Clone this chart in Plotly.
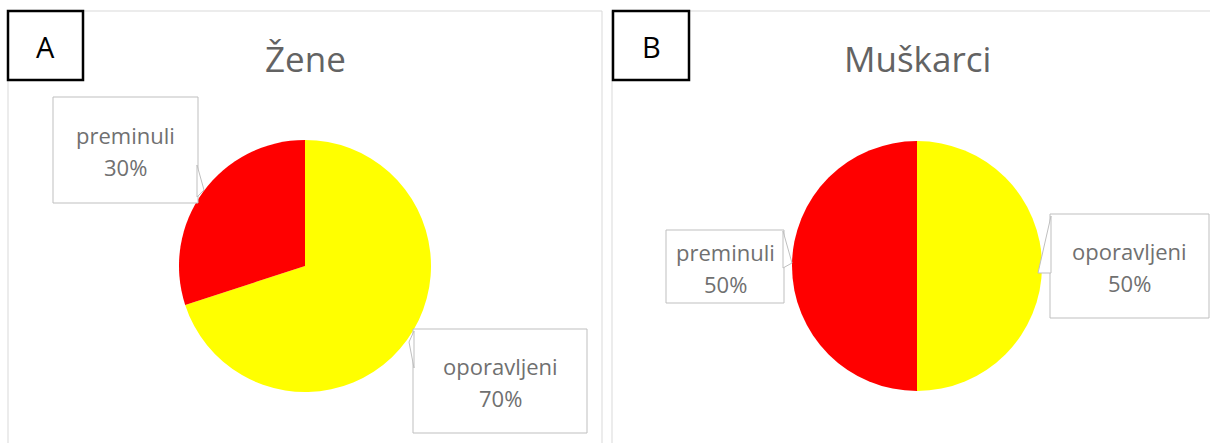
import plotly.graph_objects as go

# ---- data ----
categories = ["oporavljeni", "preminuli"]
zene = [70, 30]
muskarci = [50, 50]
slice_colors = ["#FFFF00", "#FF0000"]
panel_titles = ["Žene", "Muškarci"]
panel_letters = ["A", "B"]

W, H = 1210, 443


def px(x):
    return x / W


def py(y):
    return 1 - y / H


fig = go.Figure()

# pie domains (pixel boxes: left, top, right, bottom)
pie_boxes = [(179, 140, 431, 392), (792, 140, 1042, 392)]
for vals, (l, t, r, b), name in zip([zene, muskarci], pie_boxes, panel_titles):
    fig.add_trace(go.Pie(
        labels=categories, values=vals, name=name,
        marker=dict(colors=slice_colors, line=dict(width=0)),
        sort=False, direction="clockwise", rotation=0,
        textinfo="none", hoverinfo="label+percent",
        domain=dict(x=[px(l), px(r)], y=[py(b), py(t)]),
        showlegend=False,
    ))

shapes = []
annotations = []

# panel frames
for (l, t, r, b) in [(8, 11, 602, 460), (612, 11, 1220, 460)]:
    shapes.append(dict(type="rect", xref="paper", yref="paper",
                       x0=px(l), x1=px(r), y0=py(b), y1=py(t),
                       line=dict(color="#D9D9D9", width=1), layer="below"))

# panel titles
for title, cx in zip(panel_titles, [305, 917]):
    annotations.append(dict(text=title, x=px(cx), y=py(58), xref="paper", yref="paper",
                            xanchor="center", yanchor="middle", showarrow=False,
                            font=dict(family="Open Sans", size=35, color="#636363")))

# letter boxes
for letter, (l, t, r, b) in zip(panel_letters, [(8, 11, 83, 80), (613, 11, 689, 80)]):
    shapes.append(dict(type="rect", xref="paper", yref="paper",
                       x0=px(l), x1=px(r), y0=py(b), y1=py(t),
                       line=dict(color="#000000", width=2.5), fillcolor="#FFFFFF"))
    annotations.append(dict(text=letter, x=px((l + r) / 2), y=py((t + b) / 2 + 1),
                            xref="paper", yref="paper", xanchor="center", yanchor="middle",
                            showarrow=False,
                            font=dict(family="Open Sans", size=29, color="#000000")))

# callout label boxes: (panel index, category index, box l,t,r,b, wedge points)
callouts = [
    (0, 1, (53, 97, 198, 203), [(197, 165), (204, 190), (197, 197)]),
    (0, 0, (413, 329, 587, 433), [(414, 331), (409, 342), (414, 368)]),
    (1, 1, (666, 230, 784, 303), [(783, 231), (792, 263), (783, 268)]),
    (1, 0, (1050, 214, 1209, 318), [(1051, 216), (1038, 273), (1051, 273)]),
]
series = [zene, muskarci]
for pi, ci, (l, t, r, b), wedge in callouts:
    vals = series[pi]
    pct = round(100 * vals[ci] / sum(vals))
    shapes.append(dict(type="rect", xref="paper", yref="paper",
                       x0=px(l), x1=px(r), y0=py(b), y1=py(t),
                       line=dict(color="#BFBFBF", width=1), fillcolor="#FFFFFF"))
    path = "M " + " L ".join(f"{px(x)},{py(y)}" for x, y in wedge) + " Z"
    shapes.append(dict(type="path", xref="paper", yref="paper", path=path,
                       line=dict(color="#BFBFBF", width=1), fillcolor="#FFFFFF"))
    cy = (t + b) / 2 + 1
    cx = (l + r) / 2
    for txt, dy in [(categories[ci], -16), (f"{pct}%", 16)]:
        annotations.append(dict(text=txt, x=px(cx), y=py(cy + dy), xref="paper", yref="paper",
                                xanchor="center", yanchor="middle", showarrow=False,
                                font=dict(family="Open Sans", size=22, color="#707070")))

fig.update_layout(
    width=W, height=H,
    margin=dict(l=0, r=0, t=0, b=0),
    paper_bgcolor="#FFFFFF", plot_bgcolor="#FFFFFF",
    shapes=shapes, annotations=annotations,
)

fig.write_html("out.html", config={"displayModeBar": False},
               post_script="document.body.style.margin='0';document.body.style.overflow='hidden';")
